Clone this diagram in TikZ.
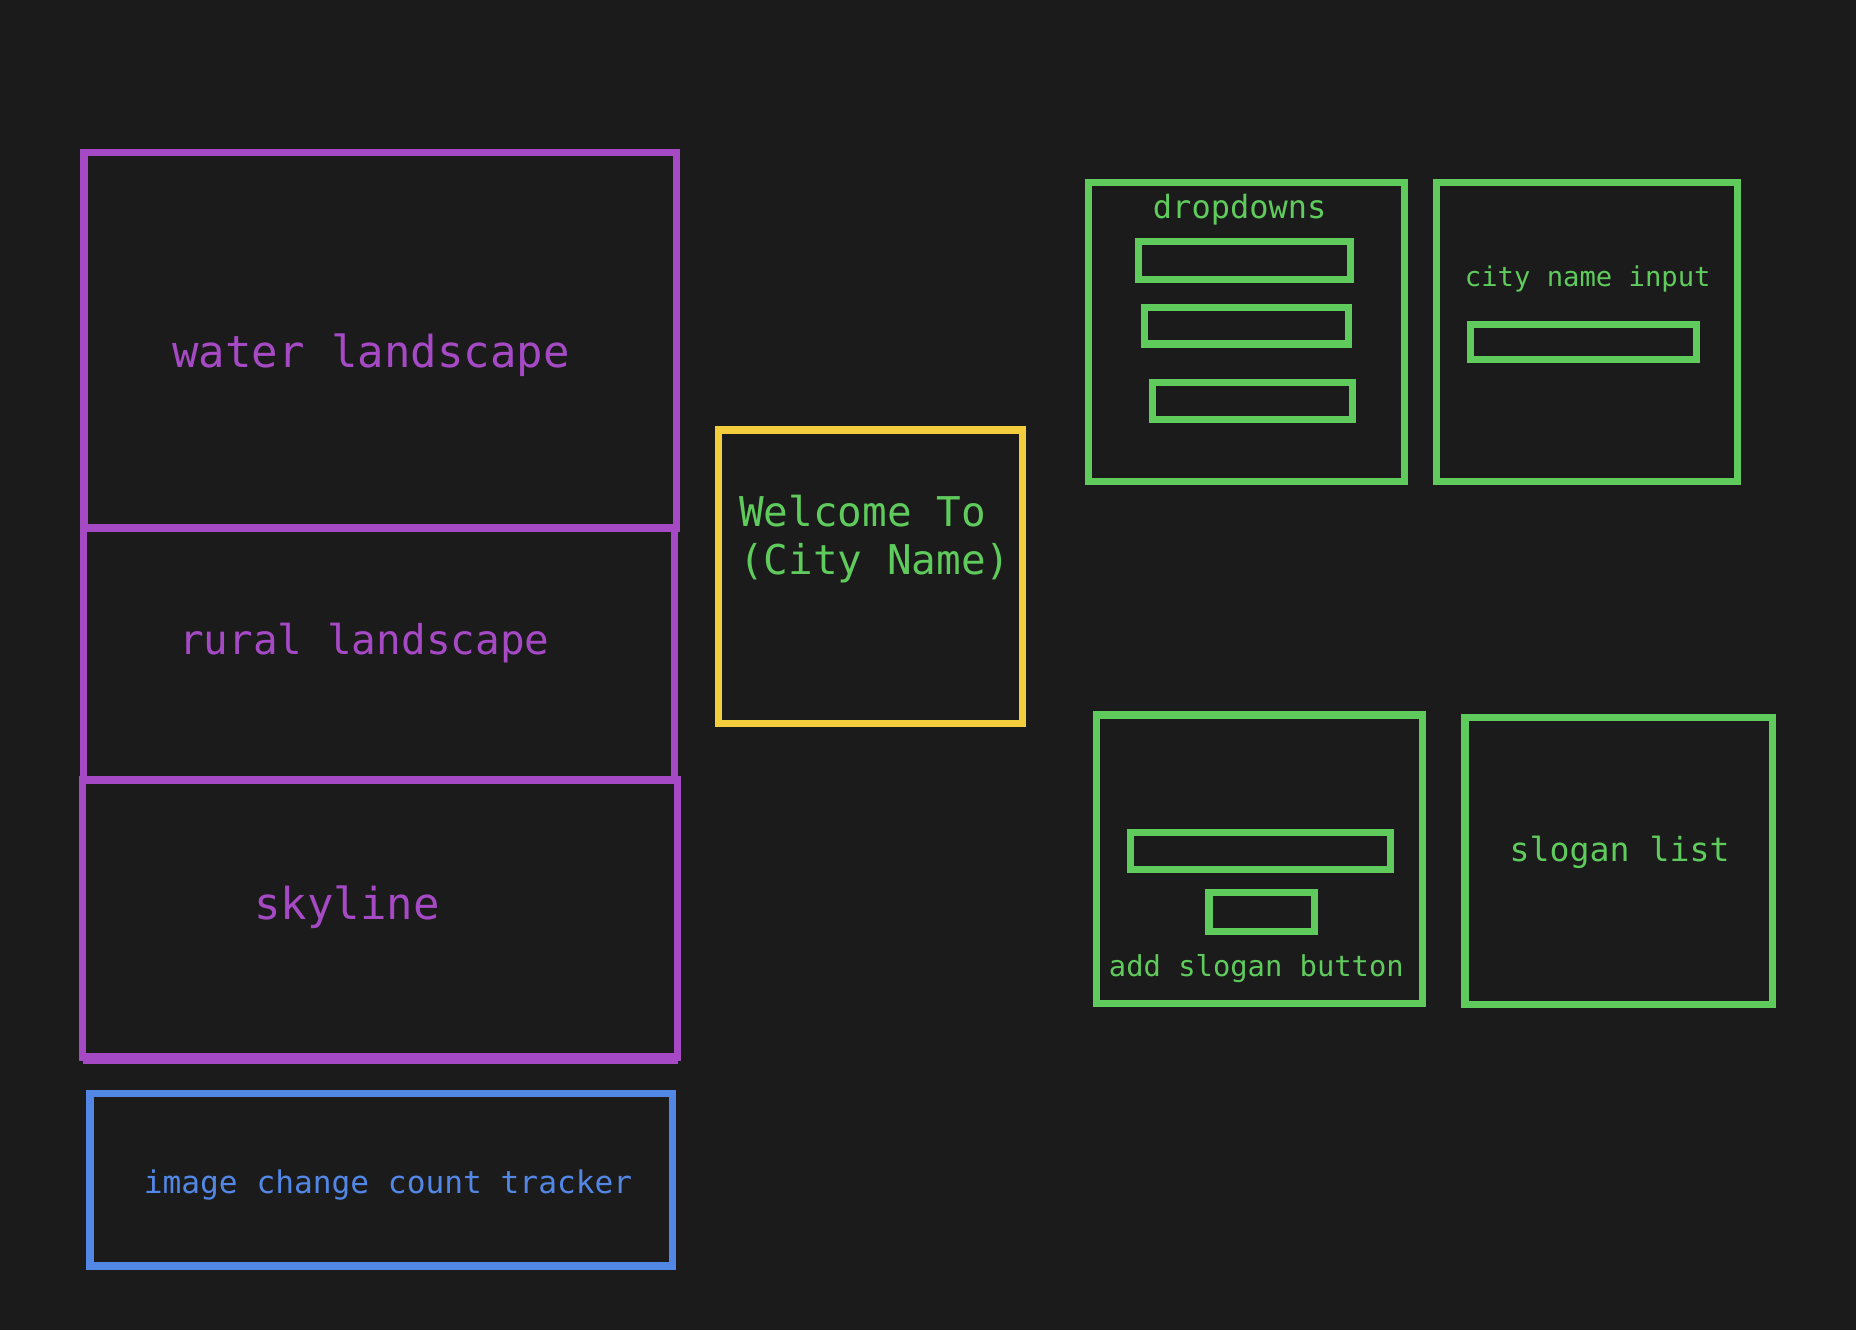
\documentclass[tikz,border=0pt]{standalone}
\usepackage{fontspec}
\setmonofont{DejaVu Sans Mono}
\definecolor{bgdark}{HTML}{1B1B1B}
\definecolor{wirepurple}{HTML}{A549C4}
\definecolor{wiregreen}{HTML}{5FCB5C}
\definecolor{wireyellow}{HTML}{F4CD3D}
\definecolor{wireblue}{HTML}{5387E6}
\begin{document}
\begin{tikzpicture}[x=0.5918pt,y=-0.5918pt,
    frame/.style={line width=3.6pt},
    label/.style={inner sep=0pt,anchor=base,font=\ttfamily}]
  \fill[bgdark] (0,0) rectangle (1568,1124);
  % image column
  \begin{scope}[frame,draw=wirepurple]
    \draw (71,129) rectangle (571.5,446);
    \draw (70.5,446) rectangle (570,659);
    \draw (70,659) rectangle (572.5,893);
    \draw (70,895.5) -- (572.5,895.5);
  \end{scope}
  \draw[wiregreen,line width=0.8pt] (73,926) rectangle (568,1070);
  \draw[frame,wireblue] (76,923.5) rectangle (568,1069.5);
  \node[label,wirepurple,font=\ttfamily\fontsize{22}{26}\selectfont] (water) at (313.5,310.8) {water landscape};
  \node[label,wirepurple,font=\ttfamily\fontsize{20.5}{24}\selectfont] (rural) at (307.8,553.2) {rural landscape};
  \node[label,wirepurple,font=\ttfamily\fontsize{22}{26}\selectfont] (skyline) at (293.2,776.9) {skyline};
  \node[label,wireblue,font=\ttfamily\fontsize{15.6}{18}\selectfont] (tracker) at (327.8,1008) {image change count tracker};
  % heading
  \draw[frame,wireyellow] (606.8,363.3) rectangle (864,611.4);
  \node[label,anchor=base west,wiregreen,font=\ttfamily\fontsize{20.5}{24}\selectfont] (welcome) at (624,444.6) {Welcome To};
  \node[label,anchor=base west,wiregreen,font=\ttfamily\fontsize{20.5}{24}\selectfont] (cityname) at (624,485.4) {(City Name)};
  % form boxes
  \begin{scope}[frame,draw=wiregreen]
    \draw (919.7,154.4) rectangle (1186.5,406.8);
    \draw (961.7,203.8) rectangle (1140.7,235.9);
    \draw (967,260.1) rectangle (1139.4,290.6);
    \draw (973.5,323.1) rectangle (1142.9,354.6);
    \draw (1213.9,154.4) rectangle (1468,406.8);
    \draw (1242.4,274.2) rectangle (1433.5,303.7);
    \draw (926.6,604) rectangle (1201.8,847.9);
    \draw (955.2,703.3) rectangle (1174.6,734.4);
    \draw (1021.3,754.2) rectangle (1110.3,786.8);
    \draw (1237.6,605.9) rectangle (1497.3,848.9);
  \end{scope}
  \node[label,wiregreen,font=\ttfamily\fontsize{16}{19}\selectfont] (dropdowns) at (1047.3,185) {dropdowns};
  \node[label,wiregreen,font=\ttfamily\fontsize{13.6}{16}\selectfont] (cityinput) at (1341.4,242) {city name input};
  \node[label,wiregreen,font=\ttfamily\fontsize{14.4}{17}\selectfont] (addslogan) at (1061.4,825) {add slogan button};
  \node[label,wiregreen,font=\ttfamily\fontsize{16.6}{19}\selectfont] (sloganlist) at (1368.3,728) {slogan list};
\end{tikzpicture}
\end{document}
